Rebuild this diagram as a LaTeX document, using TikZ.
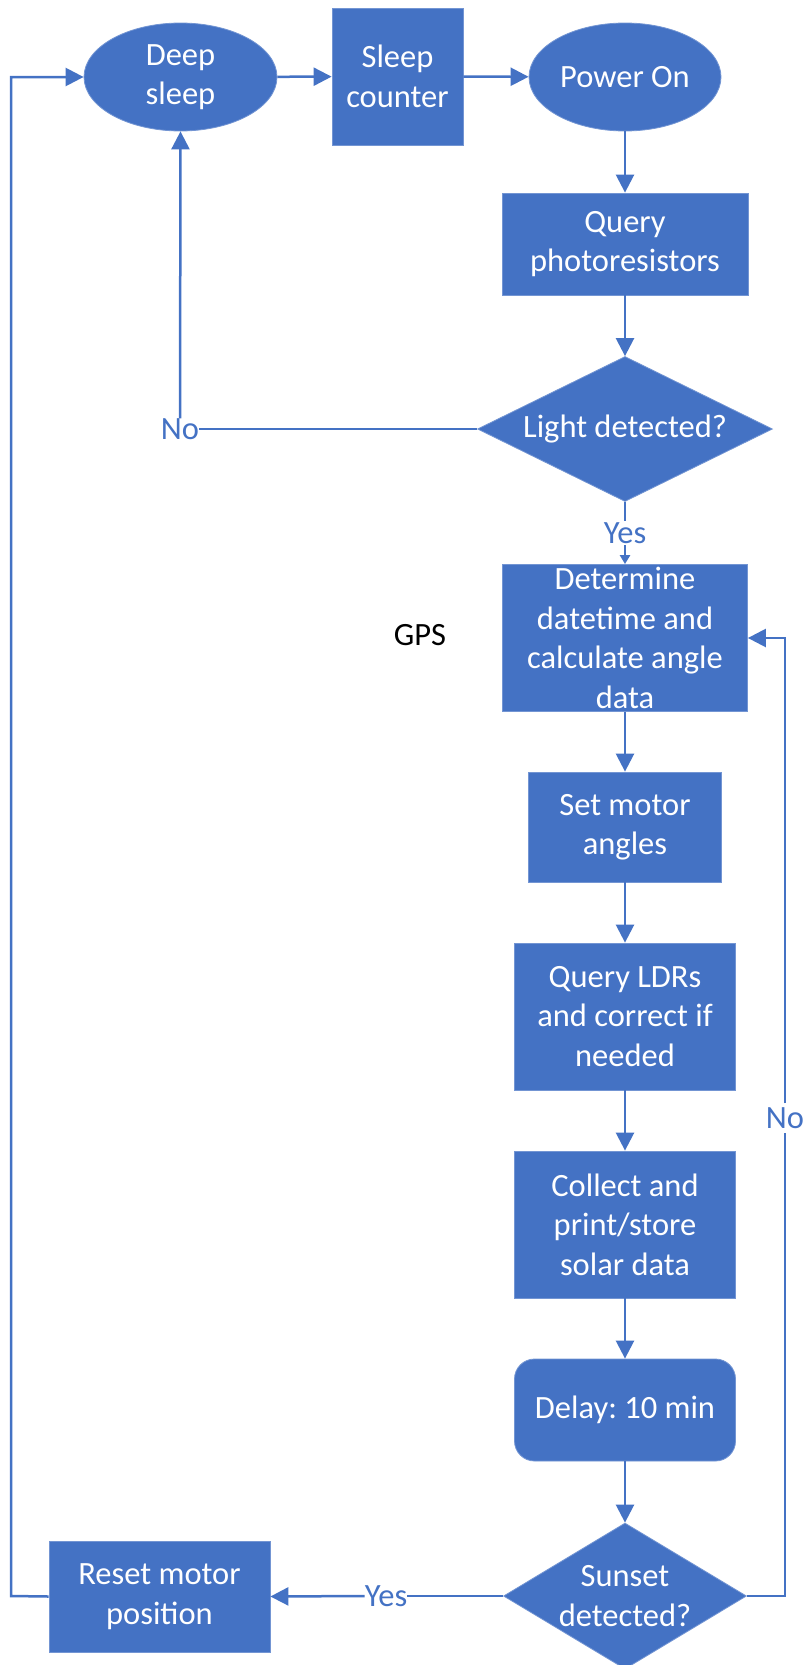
\documentclass[tikz,border=0pt]{standalone}
\usepackage{fontspec}
\setmainfont{Carlito}
\usepackage{tikz}
\usetikzlibrary{shapes.geometric,arrows.meta}
\frenchspacing
\definecolor{flowblue}{HTML}{4472C4}
\tikzstyle{blk} = [fill=flowblue, draw=flowblue!75!white, line width=0.8pt, text=white, align=center, inner sep=0pt, font={\fontsize{32.5}{39.5}\selectfont}]
\tikzstyle{proc} = [blk, rectangle]
\tikzstyle{term} = [blk, ellipse]
\tikzstyle{dec} = [blk, diamond]
\tikzstyle{lbl} = [text=flowblue, inner sep=1.5pt, font={\fontsize{32.5}{39.5}\selectfont}]
\tikzstyle{flow} = [draw=flowblue, line width=2.5pt]

\begin{document}
\begin{tikzpicture}[x=1pt,y=-1pt,>={Triangle[length=18pt,width=18pt]}]
    \useasboundingbox (0,0) rectangle (807,1665);
    \node[term,minimum width=193pt,minimum height=108pt](deep) at (180.5,77){Deep\\sleep};
    \node[proc,minimum width=131pt,minimum height=137pt](sleepc) at (397.5,76.5){Sleep\\counter};
    \node[term,minimum width=192pt,minimum height=108pt](pwr) at (625,77){Power On};
    \node[proc,minimum width=246pt,minimum height=102pt](qphoto) at (625,244){Query\\photoresistors};
    \node[dec,shape aspect=2,minimum width=295pt,minimum height=145pt](light) at (625,429){Light detected?};
    \node[proc,minimum width=245pt,minimum height=147pt](det) at (625,638){Determine\\datetime and\\calculate angle\\data};
    \node[proc,minimum width=193pt,minimum height=110pt](setm) at (625,827){Set motor\\angles};
    \node[proc,minimum width=221pt,minimum height=147pt](qldr) at (625,1016.5){Query LDRs\\and correct if\\needed};
    \node[proc,minimum width=221pt,minimum height=147pt](coll) at (625,1224.5){Collect and\\print/store\\solar data};
    \node[proc,rounded corners=20pt,minimum width=221pt,minimum height=102pt](dly) at (625,1410){Delay: 10 min};
    \node[dec,shape aspect=1.66,inner xsep=-10pt,inner ysep=-6pt,minimum width=243pt,minimum height=146pt](sun) at (625,1596){Sunset\\detected?};
    \node[proc,minimum width=221pt,minimum height=111pt](reset) at (159.5,1596.5){Reset motor\\position};
    \node[font={\fontsize{32.5}{39.5}\selectfont}](gps) at (420,635){GPS};
    \node[lbl](yes1) at (625,533){Yes};
    \node[lbl,inner sep=0pt](no1) at (180,429){No};
    \node[lbl,inner sep=0pt](yes2) at (386,1596){Yes};
    \node[lbl,inner sep=4pt](no2) at (785,1118){No};
    \coordinate (loopL) at (11,1596);
    \coordinate (loopR) at (785,1596);
    \draw[flow,->](deep)--(sleepc);
    \draw[flow,->](sleepc)--(pwr);
    \draw[flow,->](pwr)--(qphoto);
    \draw[flow,->](qphoto)--(light);
    \draw[flow](light.west)--(no1.east);
    \draw[flow,->](no1.north)--(deep.south);
    \draw[flow](light.south)--(yes1.north);
    \draw[flow,-{Triangle[length=9pt,width=10pt]}](yes1.south)--(det.north);
    \draw[flow,->](det)--(setm);
    \draw[flow,->](setm)--(qldr);
    \draw[flow,->](qldr)--(coll);
    \draw[flow,->](coll)--(dly);
    \draw[flow,->](dly)--(sun);
    \draw[flow](sun.west)--(yes2.east);
    \draw[flow,->](yes2.west)--(reset.east);
    \draw[flow](sun.east)--(loopR)--(no2.south);
    \draw[flow,->](no2.north)|-(det.east);
    \draw[flow,->](reset.west)--(loopL)|-(deep.west);
  \end{tikzpicture}
\end{document}
